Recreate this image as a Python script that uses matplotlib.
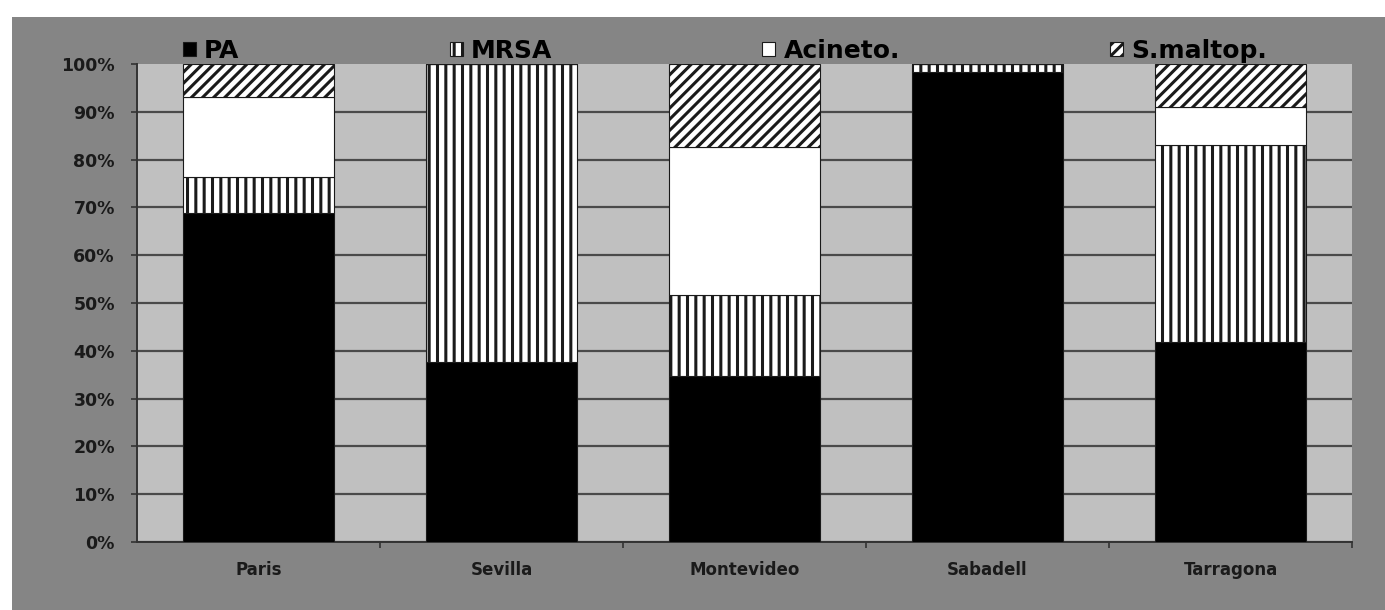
import matplotlib
matplotlib.use("Agg")
import matplotlib.pyplot as plt
from matplotlib.patches import Rectangle
from matplotlib.ticker import FixedLocator, FuncFormatter
import numpy as np

# Share of each pathogen per site (%)
cities = ["Paris", "Sevilla", "Montevideo", "Sabadell", "Tarragona"]
series_names = ["PA", "MRSA", "Acineto.", "S.maltop."]
pa = [68.8, 37.7, 34.7, 98.3, 41.8]
mrsa = [7.6, 62.3, 17.0, 1.7, 41.3]
acineto = [16.7, 0.0, 30.9, 0.0, 7.9]
smaltop = [6.9, 0.0, 17.4, 0.0, 9.0]
y_ticks = [0, 10, 20, 30, 40, 50, 60, 70, 80, 90, 100]

W, H = 1385, 610
plt.rcParams["font.family"] = ["DejaVu Sans"]
plt.rcParams["hatch.linewidth"] = 2.2

fig = plt.figure(figsize=(W / 100, H / 100), dpi=100, facecolor="white")

# dark grey chart area behind the plot
fig.patches.append(Rectangle((12 / W, 0), 1 - 12 / W, (H - 17) / H,
                             transform=fig.transFigure, facecolor="#858585",
                             edgecolor="none", zorder=-10))

ax = fig.add_axes([137 / W, (H - 542) / H, 1215 / W, 478 / H])
ax.set_zorder(1)
ax.set_facecolor("#c0c0c0")

x = np.arange(len(cities))
width = 0.625
styles = [
    dict(facecolor="black", hatch=None),
    dict(facecolor="white", hatch="||"),
    dict(facecolor="white", hatch=None),
    dict(facecolor="white", hatch="///"),
]
bottom = np.zeros(len(cities))
handles = []
for name, vals, st in zip(series_names, [pa, mrsa, acineto, smaltop], styles):
    bars = ax.bar(x, vals, width, bottom=bottom, label=name,
                  edgecolor="#1a1a1a", linewidth=0.8, zorder=3, **st)
    handles.append(bars)
    bottom += np.array(vals)

ax.set_xlim(-0.5, len(cities) - 0.5)
ax.set_ylim(0, 100)

# horizontal gridlines
ax.set_axisbelow(True)
ax.yaxis.set_major_locator(FixedLocator(y_ticks))
ax.yaxis.set_major_formatter(FuncFormatter(lambda v, p: f"{int(v)}%"))
ax.grid(axis="y", color="#4a4a4a", linewidth=1.6)
ax.get_ygridlines()[-1].set_visible(False)

# category ticks between bars, labels under the bars
ax.xaxis.set_major_locator(FixedLocator(list(x[:-1] + 0.5) + [len(cities) - 0.5]))
ax.xaxis.set_major_formatter(FuncFormatter(lambda v, p: ""))
ax.xaxis.set_minor_locator(FixedLocator(list(x)))
ax.set_xticklabels(cities, minor=True)
ax.tick_params(axis="x", which="major", direction="out", length=4, width=1.2, color="#333333")
ax.tick_params(axis="x", which="minor", length=0, pad=14, labelsize=12,
               labelcolor="#1a1a1a")
ax.tick_params(axis="y", direction="out", length=4, width=1.2, color="#333333",
               pad=12, labelsize=12.5, labelcolor="#1a1a1a")
for lab in ax.get_xticklabels(minor=True) + ax.get_yticklabels():
    lab.set_fontweight("bold")

for side in ["top", "right"]:
    ax.spines[side].set_visible(False)
for side in ["left", "bottom"]:
    ax.spines[side].set_color("#333333")
    ax.spines[side].set_linewidth(1.4)

ax.legend(handles, series_names, ncol=4, loc="center left",
          bbox_to_anchor=(183 / W, 1 - 51 / H), bbox_transform=fig.transFigure,
          frameon=False, prop=dict(weight="bold", size=18),
          handlelength=0.52, handleheight=0.52, handletextpad=0.33,
          columnspacing=8.4, borderpad=0, borderaxespad=0)

fig.savefig("out.png", dpi=100, facecolor="white")
